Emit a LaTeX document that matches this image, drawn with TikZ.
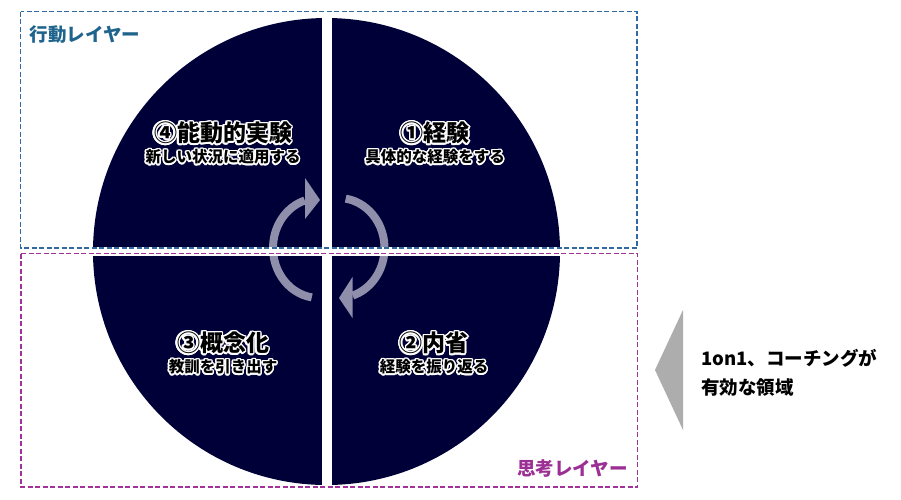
\documentclass[tikz,border=0pt]{standalone}
\usepackage{fontspec}
\newfontfamily\jp{Noto Sans CJK JP}
\definecolor{navy}{RGB}{0,0,56}
\definecolor{arrowc}{RGB}{143,143,172}
\definecolor{actblue}{RGB}{50,105,165}
\definecolor{acttext}{RGB}{31,100,140}
\definecolor{thinkpurple}{RGB}{160,50,152}
\definecolor{thinktext}{RGB}{155,47,148}
\definecolor{tri}{RGB}{173,173,173}
\tikzset{
  titlefont/.style={font=\jp\bfseries\fontsize{23}{23}\selectfont},
  subfont/.style={font=\jp\bfseries\fontsize{15.5}{15.5}\selectfont},
  layerbox/.style={line width=1.8pt,dash pattern=on 5pt off 2.5pt},
  cyclearc/.style={draw=arrowc,line width=8pt},
}
\newcommand\glowlabel[4]{%
  \foreach \ga in {0,22.5,...,337.5}{\node[#3,text=white,inner sep=0pt] at ([shift={(\ga:1.5pt)}]#2) {#4};}
  \foreach \ga in {0,45,...,315}{\node[#3,text=white,inner sep=0pt] at ([shift={(\ga:0.8pt)}]#2) {#4};}
  \node[#3,text=black,inner sep=0pt] (#1) at (#2) {#4};}
\begin{document}
\begin{tikzpicture}[x=1pt,y=-1pt]
\useasboundingbox[fill=white] (0,0) rectangle (901,499);
% circle
\fill[navy] (326.5,251.5) circle[radius=233.5];
% cycle arrows
\draw[cyclearc] (319,248) ++(99:46 and 50) arc[start angle=99,end angle=252,x radius=46,y radius=50];
\fill[arrowc] (305,178) -- (320,200) -- (305,219) -- cycle;
\draw[cyclearc] (338.5,248) ++(-81:46 and 50) arc[start angle=-81,end angle=72,x radius=46,y radius=50];
\fill[arrowc] (352.5,277) -- (339,298) -- (352.5,318) -- cycle;
% gaps
\fill[white] (322,10) rectangle (332,492);
\fill[white] (85,247) rectangle (570,256);
% labels
\coordinate (p4a) at (223,133);
\coordinate (p4b) at (223,157);
\coordinate (p1a) at (435,133);
\coordinate (p1b) at (435,157);
\coordinate (p3a) at (223,343);
\coordinate (p3b) at (223,367);
\coordinate (p2a) at (434,343);
\coordinate (p2b) at (434,367);
\glowlabel{t4}{p4a}{titlefont}{④能動的実験}
\glowlabel{s4}{p4b}{subfont}{新しい状況に適用する}
\glowlabel{t1}{p1a}{titlefont}{①経験}
\glowlabel{s1}{p1b}{subfont}{具体的な経験をする}
\glowlabel{t3}{p3a}{titlefont}{③概念化}
\glowlabel{s3}{p3b}{subfont}{教訓を引き出す}
\glowlabel{t2}{p2a}{titlefont}{②内省}
\glowlabel{s2}{p2b}{subfont}{経験を振り返る}
% layer boxes
\draw[layerbox,actblue] (20.5,11.5) rectangle (637,248);
\draw[layerbox,thinkpurple] (21,253.5) rectangle (637.5,487);
\node[anchor=west,inner sep=0pt,text=acttext,font=\jp\bfseries\fontsize{18.5}{18.5}\selectfont] (act) at (29.5,35) {行動レイヤー};
\node[anchor=east,inner sep=0pt,text=thinktext,font=\jp\bfseries\fontsize{18.5}{18.5}\selectfont] (think) at (628,468) {思考レイヤー};
% pointer
\fill[tri] (683,310) -- (683,430) -- (655,370) -- cycle;
\node[anchor=west,align=left,inner sep=0pt,font=\jp\bfseries\fontsize{18.5}{29}\selectfont] (coach) at (701,372.5) {1on1、コーチングが\\有効な領域};
\end{tikzpicture}
\end{document}
